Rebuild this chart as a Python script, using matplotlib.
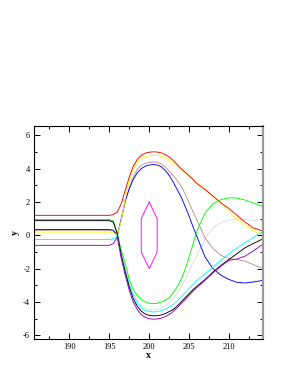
import matplotlib
matplotlib.use("Agg")
import matplotlib.pyplot as plt

x = [185.6, 195.0, 195.5, 196.0, 196.5, 197.0, 197.5, 198.0, 198.5, 199.0, 199.5,
     200.0, 200.5, 201.0, 201.5, 202.0, 202.5, 203.0, 203.5, 204.0, 204.5, 205.0,
     205.5, 206.0, 207.0, 208.0, 209.0, 210.0, 211.0, 212.0, 213.0, 214.3]

red = [1.2, 1.2, 1.25, 1.4, 1.9, 2.7, 3.5, 4.15, 4.55, 4.8, 4.93,
       4.99, 5.01, 5.0, 4.95, 4.85, 4.7, 4.5, 4.25, 4.0, 3.78, 3.58,
       3.35, 3.1, 2.75, 2.35, 1.95, 1.6, 1.2, 0.8, 0.45, 0.25]
yellow = [0.2, 0.2, 0.15, 0.0, 0.9, 2.2, 3.3, 4.0, 4.4, 4.6, 4.72,
          4.78, 4.8, 4.8, 4.75, 4.65, 4.5, 4.35, 4.18, 3.98, 3.77, 3.57,
          3.36, 3.12, 2.77, 2.36, 1.9, 1.4, 0.95, 0.6, 0.3, 0.05]
blue = [0.35, 0.35, 0.3, 0.0, 1.0, 2.1, 2.8, 3.35, 3.75, 4.0, 4.15,
        4.22, 4.25, 4.22, 4.12, 3.9, 3.6, 3.2, 2.75, 2.3, 1.75, 1.15,
        0.5, -0.1, -1.3, -2.0, -2.4, -2.65, -2.82, -2.86, -2.8, -2.7]
tan = [0.3, 0.3, 0.27, 0.0, 0.9, 2.0, 2.8, 3.5, 3.95, 4.2, 4.32,
       4.38, 4.4, 4.38, 4.3, 4.1, 3.85, 3.6, 3.3, 2.95, 2.5, 1.95,
       1.4, 0.9, -0.15, -0.8, -1.2, -1.4, -1.45, -1.55, -1.75, -2.0]
green = [0.95, 0.95, 0.85, 0.1, -0.9, -1.7, -2.65, -3.25, -3.6, -3.85, -4.0,
         -4.08, -4.1, -4.08, -4.0, -3.9, -3.75, -3.45, -3.1, -2.65, -2.05, -1.3,
         -0.5, 0.3, 1.35, 1.9, 2.15, 2.25, 2.24, 2.12, 1.95, 1.72]
lightgray = [0.9, 0.9, 0.8, 0.05, -1.1, -2.0, -2.85, -3.45, -3.9, -4.2, -4.38,
             -4.45, -4.47, -4.45, -4.38, -4.25, -4.05, -3.8, -3.5, -3.1, -2.65, -2.1,
             -1.65, -1.2, -0.2, 0.45, 0.78, 0.92, 0.96, 0.95, 0.9, 0.84]
cyan = [-0.25, -0.25, -0.2, -0.05, -1.2, -2.1, -2.95, -3.6, -4.05, -4.35, -4.5,
        -4.57, -4.6, -4.58, -4.52, -4.42, -4.3, -4.15, -3.95, -3.7, -3.45, -3.2,
        -2.95, -2.7, -2.3, -1.9, -1.5, -1.1, -0.75, -0.45, -0.15, 0.25]
black = [0.88, 0.88, 0.8, 0.1, -1.2, -2.2, -3.1, -3.8, -4.25, -4.55, -4.72,
         -4.8, -4.83, -4.82, -4.78, -4.7, -4.58, -4.45, -4.25, -4.0, -3.75, -3.5,
         -3.25, -3.05, -2.65, -2.2, -1.8, -1.45, -1.1, -0.75, -0.5, -0.2]
purple = [-0.6, -0.6, -0.5, -0.1, -1.4, -2.4, -3.3, -4.0, -4.45, -4.75, -4.92,
          -5.0, -5.03, -5.02, -4.97, -4.88, -4.75, -4.57, -4.35, -4.1, -3.85, -3.6,
          -3.35, -3.12, -2.7, -2.25, -1.85, -1.5, -1.42, -1.25, -0.95, -0.52]

hex_x = [200, 201, 201, 200, 199, 199, 200]
hex_y = [2, 1, -1, -2, -1, 1, 2]

xticks = [190, 195, 200, 205, 210]
yticks = [-6, -4, -2, 0, 2, 4, 6]

fig = plt.figure(figsize=(2.98, 3.85), dpi=100)
ax = fig.add_axes([0.1151, 0.1195, 0.7685, 0.5532])

series = [
    (lightgray, "#dcdcdc"),
    (tan, "#bc8f8f"),
    (blue, "#0000ff"),
    (yellow, "#ffff00"),
    (red, "#ff0000"),
    (green, "#00ff00"),
    (cyan, "#00ffff"),
    (black, "#000000"),
    (purple, "#9400d3"),
]
for ys, c in series:
    ax.plot(x, ys, color=c, lw=0.65, solid_joinstyle="round")
ax.plot(hex_x, hex_y, color="#ff00ff", lw=0.65)

ax.set_xlim(185.6, 214.3)
ax.set_ylim(-6.22, 6.56)
ax.set_xticks(xticks)
ax.set_yticks(yticks)
ax.set_xticks([187.5, 192.5, 197.5, 202.5, 207.5, 212.5], minor=True)
ax.set_yticks([-5, -3, -1, 1, 3, 5], minor=True)

font = "Liberation Serif"
ax.set_xticklabels([str(v) for v in xticks], fontfamily=font, fontsize=6)
ax.set_yticklabels([str(v) for v in yticks], fontfamily=font, fontsize=6)
ax.tick_params(which="both", direction="in", top=True, right=True, width=0.7, pad=3)
ax.tick_params(which="major", length=4)
ax.tick_params(which="minor", length=2)

ax.set_xlabel("x", fontfamily=font, fontweight="bold", fontsize=7, labelpad=0)
ax.set_ylabel("y", fontfamily=font, fontweight="bold", fontsize=7, labelpad=2)

for s in ["left", "bottom", "top"]:
    ax.spines[s].set_linewidth(0.8)
ax.spines["right"].set_linewidth(1.6)
ax.spines["right"].set_color("#999999")

fig.savefig("out.png", dpi=100)
